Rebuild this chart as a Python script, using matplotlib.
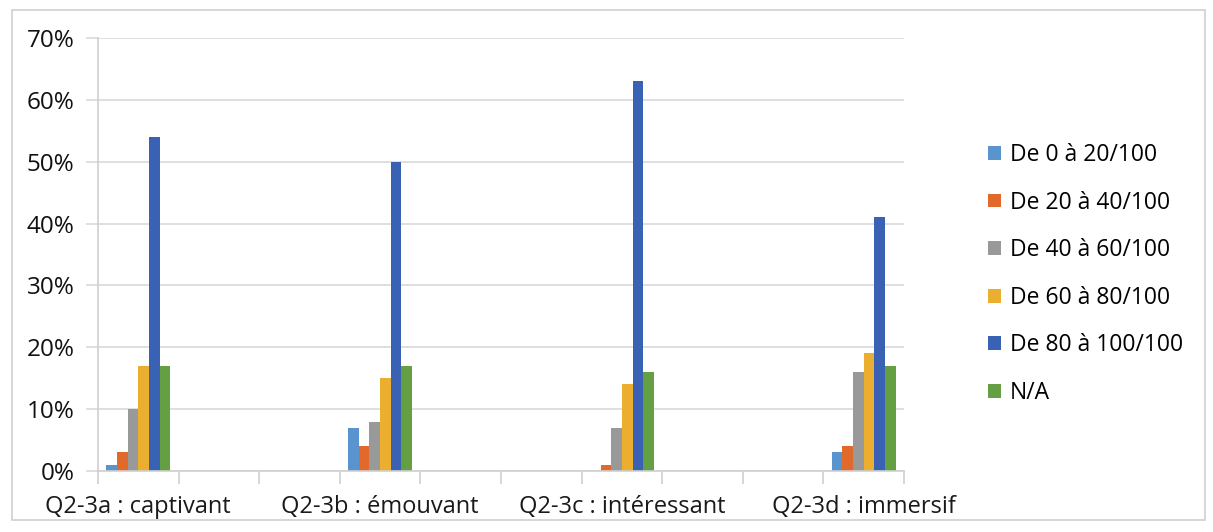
import numpy as np
import matplotlib.pyplot as plt
from matplotlib.patches import Rectangle
from matplotlib.ticker import PercentFormatter, FixedLocator

plt.rcParams['font.family'] = ['Open Sans', 'DejaVu Sans']

# data (percent of answers)
questions = ['Q2-3a : captivant', 'Q2-3b : émouvant', 'Q2-3c : intéressant', 'Q2-3d : immersif']
slot_of_question = [0, 3, 6, 9]   # the chart has 10 category slots, only 4 are filled
n_slots = 10
series = ['De 0 à 20/100', 'De 20 à 40/100', 'De 40 à 60/100',
          'De 60 à 80/100', 'De 80 à 100/100', 'N/A']
v_0_20 = [1, 7, 0, 3]
v_20_40 = [3, 4, 1, 4]
v_40_60 = [10, 8, 7, 16]
v_60_80 = [17, 15, 14, 19]
v_80_100 = [54, 50, 63, 41]
v_na = [17, 17, 16, 17]
colors = ['#5A94CE', '#E0692B', '#999999', '#EBAE2E', '#3A62B4', '#64A043']

values = [v_0_20, v_20_40, v_40_60, v_60_80, v_80_100, v_na]

fig = plt.figure(figsize=(12.13, 5.32), dpi=100)
ax = fig.add_axes([98 / 1213, 61 / 532, 806 / 1213, 433 / 532])

# outer chart frame
fig.patches.append(Rectangle((12 / 1213, 12 / 532), 1193 / 1213, 510 / 532,
                             transform=fig.transFigure, fill=False,
                             edgecolor='#D0D0D0', lw=1.2))

group = 0.79
bw = group / len(series)
centers = np.array(slot_of_question) + 0.5
for i, (name, vals) in enumerate(zip(series, values)):
    x = centers - group / 2 + bw * (i + 0.5)
    ax.bar(x, vals, width=bw, color=colors[i], label=name, edgecolor='none')

ax.set_xlim(0, n_slots)
ax.set_ylim(0, 70)
ax.set_yticks(np.arange(0, 71, 10))
ax.yaxis.set_major_formatter(PercentFormatter(decimals=0))
ax.grid(axis='y', color='#D9D9D9', lw=1.2)
ax.set_axisbelow(True)

ax.set_xticks(centers)
ax.set_xticklabels(questions)
ax.xaxis.set_minor_locator(FixedLocator(np.arange(0, n_slots + 1)))
ax.tick_params(axis='x', which='major', length=0, pad=17, labelsize=17, colors='#1A1A1A')
ax.tick_params(axis='x', which='minor', length=9, width=1.2, color='#D0D0D0')
ax.tick_params(axis='y', length=9, width=1.2, color='#D9D9D9', pad=8,
               labelsize=17.5, labelcolor='#111111')

for s in ['top', 'right']:
    ax.spines[s].set_visible(False)
for s in ['left', 'bottom']:
    ax.spines[s].set_color('#D0D0D0')
    ax.spines[s].set_linewidth(1.2)

fig.legend(loc='upper left', bbox_to_anchor=(988 / 1213, 1 - 143 / 532),
           frameon=False, fontsize=16.5, handlelength=0.55, handleheight=0.55,
           handletextpad=0.4, labelspacing=1.03, borderaxespad=0, borderpad=0)

fig.savefig('out.png', dpi=100)
